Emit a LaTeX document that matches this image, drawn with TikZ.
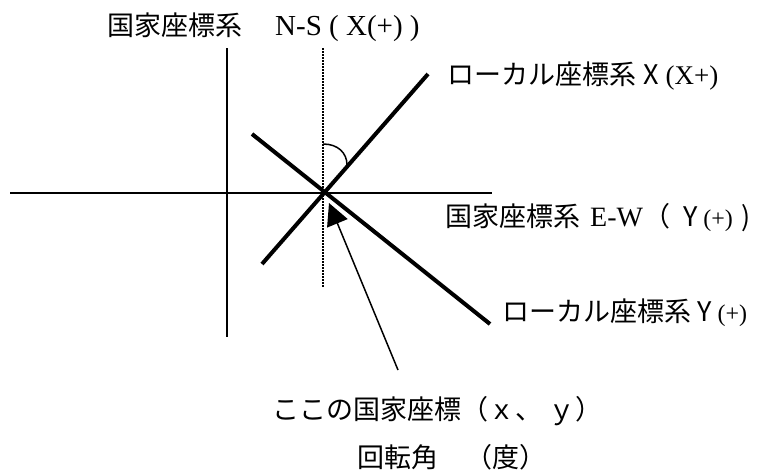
\documentclass[tikz,border=0pt]{standalone}
\usepackage{fontspec}
\setmainfont{Liberation Serif}
\newfontfamily\jp{Noto Sans CJK JP}
\usetikzlibrary{arrows.meta}
\newcommand{\jpb}{\jp\fontsize{27}{31}\selectfont}
\newcommand{\lat}[1]{\fontsize{#1}{30}\selectfont}
\begin{document}
\begin{tikzpicture}[x=1pt,y=-1pt,
  axisline/.style={line width=2pt},
  localline/.style={line width=4pt},
  dotline/.style={line width=1.5pt,dash pattern=on 1.5pt off 1.5pt},
  leader/.style={line width=1.5pt,-{Triangle[length=22pt,width=22pt]}},
  lbl/.style={anchor=west,inner sep=0pt},
  bottom/.style={lbl,font=\jpb}]
\useasboundingbox[fill=white] (0,0) rectangle (762,471);
\coordinate (o) at (323,193);
\coordinate (nTop) at (227,48);  \coordinate (nBot) at (227,337);
\coordinate (eL) at (10,193);    \coordinate (eR) at (492,193);
\coordinate (dTop) at (323,48);  \coordinate (dBot) at (323,288);
\coordinate (xA) at (262,264);   \coordinate (xB) at (428,74);
\coordinate (yA) at (252,134);   \coordinate (yB) at (490,324);
\coordinate (arcS) at (323,144); \coordinate (arcE) at (347,165);
\coordinate (tip) at (329,203);  \coordinate (lead) at (398,370);

\draw[axisline] (nTop) -- (nBot);
\draw[axisline] (eL) -- (eR);
\draw[dotline] (dTop) -- (dBot);
\draw[localline] (xA) -- (xB);
\draw[localline] (yA) -- (yB);
\draw[line width=1.5pt] (arcS) .. controls (338,144) and (347,153) .. (arcE);
\draw[leader] (lead) -- (tip);

\node[lbl] (ns) at (107,27) {{\jpb 国家座標系}\hspace{33pt}{\lat{29}N-S ( X(+) )}};
\node[lbl] (lx) at (447,76) {{\jpb ローカル座標系}\hspace{7pt}{\jpb X}\hspace{7pt}{\lat{27}(X+)}};
\node[lbl] (ew) at (445,218) {{\jpb 国家座標系}\hspace{10pt}{\lat{28}E-W}{\jpb （}\hspace{13pt}{\jpb Y}\hspace{6pt}{\lat{24}(+)}\hspace{9pt}{\jpb )}};
\node[lbl] (ly) at (502,313) {{\jpb ローカル座標系}\hspace{6pt}{\jpb Y}\hspace{6pt}{\lat{24}(+)}};
\node[bottom] (b1) at (272,411) {ここの国家座標（ｘ、\hspace{6pt}ｙ）};
\node[bottom] (b2) at (357,457) {回転角　（度）};
\end{tikzpicture}
\end{document}
